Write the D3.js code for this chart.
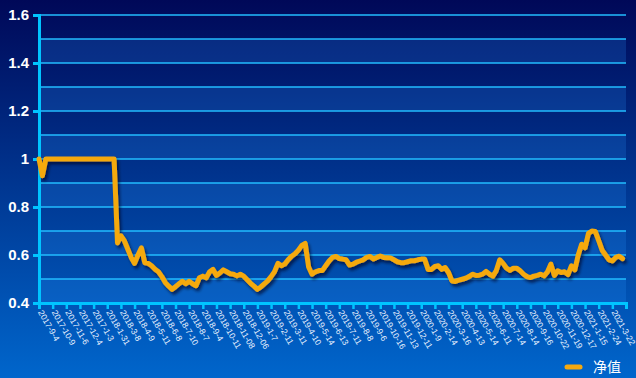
<!DOCTYPE html>
<html>
<head>
<meta charset="utf-8">
<script src="https://cdn.jsdelivr.net/npm/d3@7"></script>
<style>
  html, body { margin: 0; padding: 0; overflow: hidden; }
  svg { display: block; }
</style>
</head>
<body>
<svg id="chart" width="636" height="378"></svg>
<script>
// tick labels along the x axis (one every 4 data points)
const dateLabels = [
  '2017-9-4', '2017-10-9', '2017-11-6', '2017-12-4', '2017-1-3', '2018-1-31',
  '2018-3-8', '2018-4-9', '2018-5-11', '2018-6-8', '2018-7-10', '2018-8-7',
  '2018-9-4', '2018-10-11', '2018-11-08', '2018-12-06', '2019-1-7', '2019-2-11',
  '2019-3-11', '2019-4-10', '2019-5-14', '2019-6-13', '2019-7-11', '2019-8-8',
  '2019-9-6', '2019-10-16', '2019-11-13', '2019-12-11', '2020-1-9', '2020-2-14',
  '2020-3-16', '2020-4-13', '2020-5-14', '2020-6-11', '2020-7-14', '2020-8-14',
  '2020-9-16', '2020-10-22', '2020-11-19', '2020-12-17', '2021-1-15', '2021-2-24',
  '2021-3-22'
];

// 净值 (net value)
const netValue = [
  1.0, 0.93, 1.0, 1.0, 1.0, 1.0, 1.0, 1.0, 1.0, 1.0,
  1.0, 1.0, 1.0, 1.0, 1.0, 1.0, 1.0, 1.0, 1.0, 1.0,
  1.0, 1.0, 1.0, 0.65, 0.68, 0.66, 0.625, 0.59, 0.565, 0.6,
  0.63, 0.568, 0.565, 0.555, 0.541, 0.53, 0.51, 0.485, 0.47, 0.457,
  0.468, 0.48, 0.49, 0.48, 0.49, 0.48, 0.472, 0.505, 0.512, 0.505,
  0.53, 0.54, 0.515, 0.525, 0.538, 0.53, 0.522, 0.52, 0.513, 0.52,
  0.512, 0.497, 0.482, 0.47, 0.457, 0.467, 0.48, 0.492, 0.51, 0.53,
  0.565, 0.555, 0.562, 0.58, 0.595, 0.605, 0.62, 0.64, 0.648, 0.55,
  0.52, 0.53, 0.535, 0.535, 0.555, 0.575, 0.59, 0.594, 0.585, 0.583,
  0.58, 0.558, 0.562, 0.57, 0.575, 0.58, 0.59, 0.594, 0.583, 0.59,
  0.596, 0.59, 0.589, 0.588, 0.58, 0.572, 0.568, 0.568, 0.572, 0.576,
  0.576, 0.58, 0.583, 0.583, 0.54, 0.54, 0.552, 0.555, 0.54, 0.548,
  0.527, 0.492, 0.49, 0.495, 0.499, 0.503, 0.51, 0.52, 0.515, 0.516,
  0.52, 0.532, 0.52, 0.512, 0.535, 0.58, 0.565, 0.545, 0.536, 0.545,
  0.545, 0.534, 0.52, 0.51, 0.506, 0.512, 0.515, 0.52, 0.513, 0.53,
  0.562, 0.515, 0.534, 0.527, 0.53, 0.518, 0.555, 0.538, 0.6, 0.645,
  0.63, 0.69, 0.7, 0.698, 0.66, 0.62, 0.6, 0.58, 0.575, 0.59,
  0.595, 0.585
];

const yTicks = [0.4, 0.6, 0.8, 1.0, 1.2, 1.4, 1.6];
const seriesName = '净值';

const width = 636,
  height = 378,
  margin = { left: 39, right: 10, top: 15, bottom: 75 },
  perLabel = 4,
  nSteps = dateLabels.length * perLabel;

const svg = d3.select('#chart');
const defs = svg.append('defs');

// page background
const bg = defs.append('linearGradient')
  .attr('id', 'bg').attr('x1', 0).attr('y1', 0).attr('x2', 0).attr('y2', 1);
bg.append('stop').attr('offset', '0%').attr('stop-color', '#000858');
bg.append('stop').attr('offset', '100%').attr('stop-color', '#0066cc');

const shadow = defs.append('filter')
  .attr('id', 'shadow')
  .attr('x', '-5%').attr('y', '-20%').attr('width', '110%').attr('height', '140%');
shadow.append('feDropShadow')
  .attr('dx', 2).attr('dy', 3)
  .attr('stdDeviation', 1.5)
  .attr('flood-color', '#000022')
  .attr('flood-opacity', 0.6);

svg.append('rect')
  .attr('width', width).attr('height', height)
  .attr('fill', 'url(#bg)');

const x = d3.scaleLinear()
    .domain([0, nSteps])
    .range([margin.left, width - margin.right]),
  y = d3.scaleLinear()
    .domain([0.4, 1.6])
    .range([height - margin.bottom, margin.top]);

// alternating bands + grid lines every 0.1
const gridVals = d3.range(4, 17).map(d => d / 10);
svg.append('g')
  .selectAll('rect')
  .data(gridVals.slice(0, -1).filter((d, i) => i % 2 === 0))
  .join('rect')
  .attr('x', x(0))
  .attr('width', x(nSteps) - x(0))
  .attr('y', d => y(d + 0.1))
  .attr('height', d => y(d) - y(d + 0.1))
  .attr('fill', 'rgba(40,150,255,0.2)');

svg.append('g')
  .selectAll('line')
  .data(gridVals.slice(1))
  .join('line')
  .attr('x1', x(0)).attr('x2', x(nSteps))
  .attr('y1', d => y(d)).attr('y2', d => y(d))
  .attr('stroke', '#22bcff')
  .attr('stroke-width', 1.3);

// y axis
const yAxis = svg.append('g')
  .attr('transform', `translate(${x(0)},0)`)
  .call(d3.axisLeft(y).tickValues(yTicks).tickSize(6).tickPadding(4)
    .tickFormat(d => d3.format('')(+d.toFixed(1))));
yAxis.select('.domain').attr('stroke', '#00c4ff').attr('stroke-width', 3);
yAxis.selectAll('.tick line').attr('stroke', '#00c4ff').attr('stroke-width', 3);
yAxis.selectAll('.tick text')
  .attr('fill', '#ffffff')
  .attr('font-family', 'Liberation Sans, Arial, sans-serif')
  .attr('font-weight', 'bold')
  .attr('font-size', 15);

// x axis
const xAxis = svg.append('g')
  .attr('transform', `translate(0,${y(0.4)})`)
  .call(d3.axisBottom(x).tickValues(d3.range(0, nSteps + 1, perLabel))
    .tickSize(6).tickFormat(''));
xAxis.select('.domain').attr('stroke', '#00c4ff').attr('stroke-width', 3);
xAxis.selectAll('.tick line').attr('stroke', '#00c4ff').attr('stroke-width', 2.5);

svg.append('g')
  .selectAll('text')
  .data(dateLabels)
  .join('text')
  .attr('transform', (d, i) => `translate(${x(i * perLabel) + 1},${y(0.4) + 8}) rotate(60)`)
  .attr('dy', '0.3em')
  .attr('fill', '#e8f2ff')
  .attr('font-family', 'Liberation Sans, Arial, sans-serif')
  .attr('font-size', 8.5)
  .text(d => d);

// the series
const line = d3.line()
  .x((d, i) => x(i))
  .y(d => y(d));

svg.append('path')
  .datum(netValue)
  .attr('d', line)
  .attr('fill', 'none')
  .attr('stroke', '#f5a90f')
  .attr('stroke-width', 5)
  .attr('stroke-linejoin', 'round')
  .attr('stroke-linecap', 'round')
  .attr('filter', 'url(#shadow)');

// legend
const legend = svg.append('g').attr('transform', 'translate(565,367)');
legend.append('line')
  .attr('x1', 2).attr('x2', 15)
  .attr('stroke', '#f5a90f')
  .attr('stroke-width', 5)
  .attr('stroke-linecap', 'round');
legend.append('text')
  .attr('x', 28)
  .attr('dy', '0.35em')
  .attr('fill', '#ffffff')
  .attr('font-family', 'Noto Sans CJK SC, sans-serif')
  .attr('font-size', 14)
  .text(seriesName);
</script>
</body>
</html>
